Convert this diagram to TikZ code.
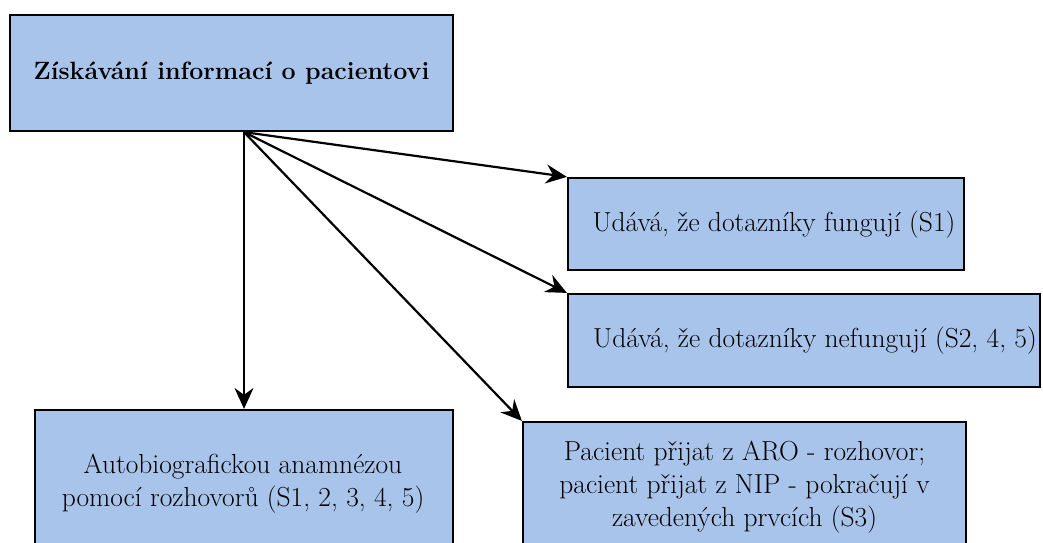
\documentclass[tikz,border=0pt]{standalone}
\usepackage{fontspec}
\usetikzlibrary{arrows.meta}
\definecolor{boxblue}{HTML}{A9C4EB}
\tikzset{
  box/.style={draw=black, fill=boxblue, line width=2.2pt, inner sep=0pt, align=center},
  lbl/.style={inner sep=0pt, align=center, font=\rmfamily\fontsize{27.5}{33}\selectfont},
  link/.style={line width=2.2pt, -{Stealth[length=21pt, width=19pt, inset=7pt]}}
}
\begin{document}
\begin{tikzpicture}[x=1pt, y=-1pt]
  \useasboundingbox (0,0) rectangle (1043,542);
  \clip (0,0) rectangle (1043,542);
  \fill[white] (0,0) rectangle (1043,542);

  % boxes
  \node[box, minimum width=443pt, minimum height=116pt] (top) at (231.5,73)
    {\rmfamily\fontsize{25}{32}\selectfont\bfseries Získávání informací o pacientovi};
  \node[box, minimum width=396pt, minimum height=92pt] (s1) at (766,224) {};
  \node[lbl] (s1t) at (774,225) {Udává, že dotazníky fungují (S1)};
  \node[box, minimum width=472pt, minimum height=93pt] (s2) at (804,340.5) {};
  \node[lbl] (s2t) at (815,341) {Udává, že dotazníky nefungují (S2, 4, 5)};
  \node[box, minimum width=418pt, minimum height=146pt] (bl) at (244,483) {};
  \node[lbl] (blt) at (243,484) {Autobiografickou anamnézou\\pomocí rozhovorů (S1, 2, 3, 4, 5)};
  \node[box, minimum width=443pt, minimum height=130pt] (br) at (744.5,487) {};
  \node[lbl] (brt) at (744.5,487) {Pacient přijat z ARO - rozhovor;\\pacient přijat z NIP - pokračují v\\zavedených prvcích (S3)};

  % connectors from a common point under the top box
  \coordinate (src) at (top.south -| bl.north);
  \draw[link] (src) -- (bl.north);
  \draw[link] (src) -- (s1.north west);
  \draw[link] (src) -- (s2.north west);
  \draw[link] (src) -- (br.north west);
\end{tikzpicture}
\end{document}
